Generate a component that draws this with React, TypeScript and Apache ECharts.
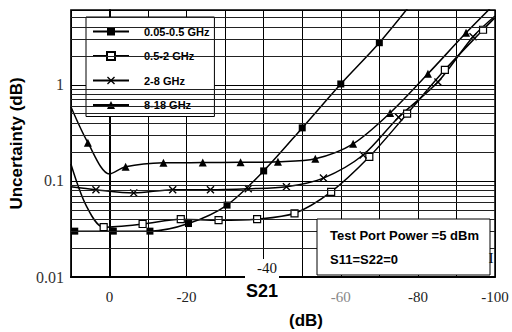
import React, { useEffect, useRef } from 'react';
import * as echarts from 'echarts';

const seriesNames = ['0.05-0.5 GHz', '0.5-2 GHz', '2-8 GHz', '8-18 GHz'];

// S21 (dB) and uncertainty (dB); marks: 1 = point has a marker
const s1X = [9, -1, -10.5, -20.5, -30.5, -40, -50, -60, -70, -80];
const s1Y = [0.03, 0.03, 0.03, 0.036, 0.056, 0.127, 0.356, 1.02, 2.74, 8.5];
const s1M = [1, 1, 1, 1, 1, 1, 1, 1, 1, 0];

const s2X = [10, 6, 1.5, -8.6, -18.5, -28.3, -38.3, -48, -57.5, -67.4, -77.2, -87, -96.9, -100];
const s2Y = [0.15, 0.055, 0.033, 0.0356, 0.04, 0.039, 0.04, 0.046, 0.077, 0.178, 0.5, 1.43, 3.74, 5.0];
const s2M = [0, 0, 1, 1, 1, 1, 1, 1, 1, 1, 1, 1, 1, 0];

const s3X = [10, 3.5, -6.3, -16.4, -26.2, -36, -45.9, -55.5, -65.8, -75, -85.2, -94.3, -100];
const s3Y = [0.087, 0.081, 0.075, 0.081, 0.081, 0.083, 0.087, 0.107, 0.186, 0.46, 1.07, 3.16, 5.2];
const s3M = [0, 1, 1, 1, 1, 1, 1, 1, 1, 1, 1, 1, 0];

const s4X = [10, 5.6, 0, -4.2, -14, -24.2, -34, -43.7, -53.4, -63.2, -72.8, -82.6, -92.5, -100];
const s4Y = [0.59, 0.25, 0.118, 0.14, 0.154, 0.155, 0.156, 0.158, 0.17, 0.243, 0.51, 1.3, 3.47, 7.0];
const s4M = [0, 1, 0, 1, 1, 1, 1, 1, 1, 1, 1, 1, 1, 0];

const xTickLabels = ['0', '-20', '-60', '-80', '-100'];
const yTickLabels = ['0.01', '0.1', '1'];

const SANS = 'Liberation Sans, Arial, sans-serif';
const SERIF = 'Liberation Serif, Times New Roman, serif';
const X_PATH = 'path://M0,1.2L1.2,0L5,3.8L8.8,0L10,1.2L6.2,5L10,8.8L8.8,10L5,6.2L1.2,10L0,8.8L3.8,5Z';

function build(xs: number[], ys: number[], ms: number[]) {
  return xs.map((x, i) => (ms[i] ? { value: [x, ys[i]] } : { value: [x, ys[i]], symbol: 'none' }));
}

export default function App() {
  const ref = useRef<HTMLDivElement>(null);
  useEffect(() => {
    if (!ref.current) return;
    const chart = echarts.init(ref.current, null, { renderer: 'svg' });
    const minorGrid: number[] = [];
    [0.01, 0.1, 1].forEach((d) => {
      for (let k = 2; k <= 9; k++) if (d * k < 6) minorGrid.push(+(d * k).toFixed(4));
    });
    const lineStyle = { color: '#000', width: 1.5 };
    const common = {
      type: 'line',
      smooth: 0.3,
      clip: true,
      lineStyle,
      symbolSize: 7,
    };
    const legendText = { fontFamily: SANS, fontWeight: 'bold', fontSize: 11, color: '#000', padding: [0, 0, 0, 10] };
    chart.setOption({
      animation: false,
      grid: { left: 70, top: 10, right: 17, bottom: 55, show: true, borderColor: '#000', borderWidth: 1.5 },
      legend: {
        orient: 'vertical',
        align: 'left',
        left: 86,
        top: 17,
        backgroundColor: '#fff',
        borderColor: '#000',
        borderWidth: 1,
        padding: [9, 5, 6, 6],
        itemWidth: 36,
        itemHeight: 10,
        itemGap: 13.5,
        textStyle: legendText,
        data: seriesNames,
      },
      xAxis: {
        type: 'value',
        inverse: true,
        min: -100,
        max: 10,
        interval: 10,
        axisLine: { show: true, lineStyle: { color: '#000', width: 2 } },
        axisTick: { show: false },
        splitLine: { show: true, lineStyle: { color: '#000', width: 1 } },
        axisLabel: {
          margin: 12,
          fontFamily: SERIF,
          fontSize: 15,
          color: '#222',
          formatter: (v: number) => {
            const s = String(v);
            if (!xTickLabels.includes(s)) return '';
            return s === '-60' ? '{g|' + s + '}' : s;
          },
          rich: { g: { color: '#888', fontFamily: SERIF, fontSize: 15 } },
        },
      },
      yAxis: {
        type: 'log',
        logBase: 10,
        min: 0.01,
        max: 6,
        name: 'Uncertainty (dB)',
        nameLocation: 'middle',
        nameGap: 37,
        nameTextStyle: { fontFamily: SANS, fontWeight: 'bold', fontSize: 17, color: '#000' },
        axisLine: { show: true, lineStyle: { color: '#000', width: 2 } },
        axisTick: { show: false },
        splitLine: { show: true, lineStyle: { color: '#000', width: 1 } },
        axisLabel: {
          margin: 7,
          fontFamily: SERIF,
          fontSize: 16,
          color: '#333',
          formatter: (v: number) => {
            const s = String(+v.toPrecision(6));
            return yTickLabels.includes(s) ? s : '';
          },
        },
      },
      series: [
        {
          ...common,
          name: seriesNames[0],
          symbol: 'rect',
          itemStyle: { color: '#000' },
          data: build(s1X, s1Y, s1M),
          markLine: {
            silent: true,
            symbol: ['none', 'none'],
            label: { show: false },
            lineStyle: { color: '#222', width: 1, type: 'solid' },
            data: minorGrid.map((v) => ({ yAxis: v })),
          },
        },
        {
          ...common,
          name: seriesNames[1],
          symbol: 'rect',
          symbolSize: 7,
          itemStyle: { color: '#fff', borderColor: '#000', borderWidth: 1.2 },
          data: build(s2X, s2Y, s2M),
        },
        {
          ...common,
          name: seriesNames[2],
          symbol: X_PATH,
          symbolSize: 8,
          itemStyle: { color: '#000' },
          data: build(s3X, s3Y, s3M),
        },
        {
          ...common,
          name: seriesNames[3],
          symbol: 'triangle',
          symbolSize: 8,
          itemStyle: { color: '#000' },
          data: build(s4X, s4Y, s4M),
        },
      ],
      graphic: [
        { type: 'rect', z: 100, shape: { x: 245, y: 259, width: 34, height: 22 }, style: { fill: '#fff' } },
        { type: 'text', z: 101, x: 267, y: 268, style: { text: '-40', fontFamily: SERIF, fontSize: 15, fill: '#111', align: 'center', verticalAlign: 'middle' } },
        { type: 'text', z: 101, x: 262, y: 291, style: { text: 'S21', fontFamily: SANS, fontWeight: 'bold', fontSize: 18, fill: '#000', align: 'center', verticalAlign: 'middle' } },
        { type: 'text', z: 101, x: 306, y: 320, style: { text: '(dB)', fontFamily: SANS, fontWeight: 'bold', fontSize: 17, fill: '#000', align: 'center', verticalAlign: 'middle' } },
        { type: 'rect', z: 100, shape: { x: 317, y: 219, width: 173, height: 56 }, style: { fill: '#fff', stroke: '#000', lineWidth: 1 } },
        { type: 'text', z: 101, x: 330, y: 235, style: { text: 'Test Port Power =5 dBm', fontFamily: SANS, fontWeight: 'bold', fontSize: 13, fill: '#000', align: 'left', verticalAlign: 'middle' } },
        { type: 'text', z: 101, x: 330, y: 259, style: { text: 'S11=S22=0', fontFamily: SANS, fontWeight: 'bold', fontSize: 13, fill: '#000', align: 'left', verticalAlign: 'middle' } },
        { type: 'text', z: 101, x: 491, y: 258, style: { text: 'I', fontFamily: SERIF, fontSize: 15, fill: '#000', align: 'center', verticalAlign: 'middle' } },
      ],
    });
    return () => chart.dispose();
  }, []);
  return <div ref={ref} style={{ position: 'fixed', left: 0, top: 0, width: 512, height: 332, background: '#fff' }} />;
}
